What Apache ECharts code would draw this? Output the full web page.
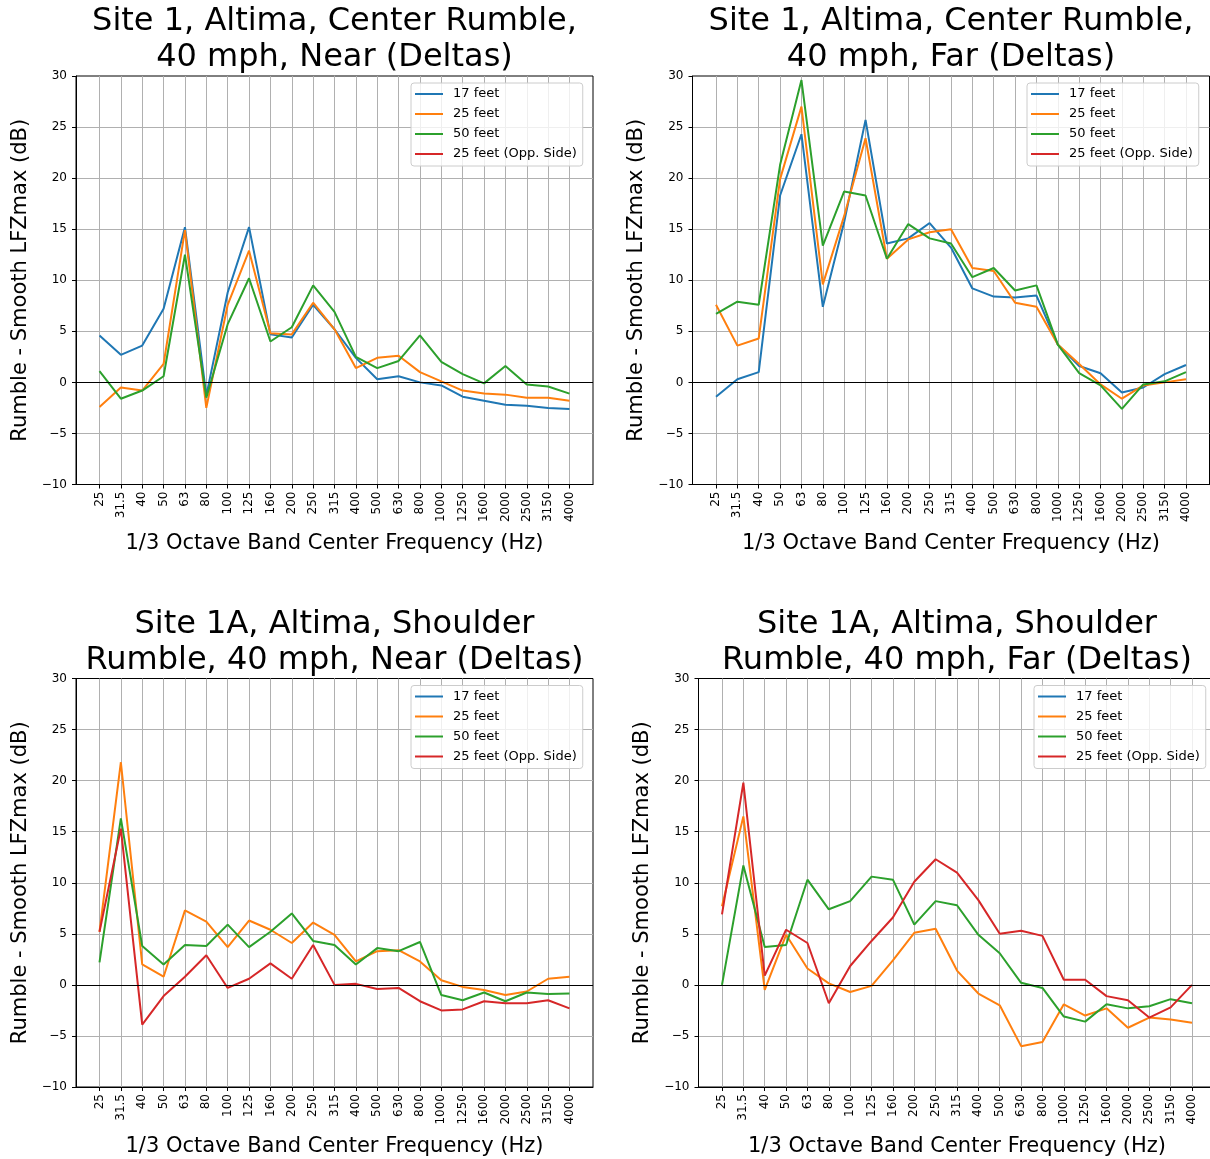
<!DOCTYPE html>
<html>
<head>
<meta charset="utf-8">
<title>Rumble deltas</title>
<script src="https://cdn.jsdelivr.net/npm/echarts@6/dist/echarts.min.js"></script>
<style>
  html, body { margin: 0; padding: 0; background: #fff; }
  #main { width: 1210px; height: 1159px; }
</style>
</head>
<body>
<div id="main"></div>
<script>
// 1/3 octave band centre frequencies (x axis)
const freqs = ['25', '31.5', '40', '50', '63', '80', '100', '125', '160', '200', '250', '315',
  '400', '500', '630', '800', '1000', '1250', '1600', '2000', '2500', '3150', '4000']
const seriesNames = ['17 feet', '25 feet', '50 feet', '25 feet (Opp. Side)']

// Site 1, center rumble, near
const s1Near17 = [4.6, 2.7, 3.6, 7.2, 15.2, -1.3, 8.8, 15.2, 4.7, 4.4, 7.6, 5.2, 2.4, 0.3, 0.6, 0.0, -0.3, -1.4, -1.8, -2.2, -2.3, -2.5, -2.6]
const s1Near25 = [-2.4, -0.5, -0.8, 1.8, 14.9, -2.5, 7.6, 12.9, 4.8, 4.7, 7.8, 5.2, 1.4, 2.4, 2.6, 1.0, 0.1, -0.8, -1.1, -1.2, -1.5, -1.5, -1.8]
const s1Near50 = [1.1, -1.6, -0.8, 0.6, 12.5, -1.5, 5.7, 10.2, 4.0, 5.4, 9.5, 6.9, 2.5, 1.4, 2.1, 4.6, 2.0, 0.8, -0.1, 1.6, -0.2, -0.4, -1.1]

// Site 1, center rumble, far
const s1Far17 = [-1.4, 0.3, 1.0, 18.3, 24.3, 7.4, 15.7, 25.7, 13.6, 14.1, 15.6, 13.2, 9.2, 8.4, 8.3, 8.5, 3.7, 1.6, 0.9, -1.0, -0.5, 0.8, 1.7]
const s1Far25 = [7.6, 3.6, 4.3, 19.9, 27.0, 9.6, 16.3, 23.9, 12.1, 14.0, 14.7, 15.0, 11.2, 10.9, 7.8, 7.4, 3.7, 1.8, -0.2, -1.6, -0.3, 0.0, 0.3]
const s1Far50 = [6.7, 7.9, 7.6, 21.3, 29.6, 13.4, 18.7, 18.3, 12.1, 15.5, 14.1, 13.6, 10.3, 11.2, 9.0, 9.5, 3.7, 0.9, -0.3, -2.6, -0.2, 0.1, 1.0]

// Site 1A, shoulder rumble, near
const s1aNear25 = [5.2, 21.8, 2.0, 0.8, 7.3, 6.2, 3.7, 6.3, 5.4, 4.1, 6.1, 4.9, 2.3, 3.3, 3.4, 2.3, 0.45, -0.2, -0.5, -1.0, -0.65, 0.6, 0.8]
const s1aNear50 = [2.2, 16.3, 3.8, 2.0, 3.9, 3.8, 5.9, 3.7, 5.2, 7.0, 4.3, 3.9, 2.0, 3.6, 3.3, 4.2, -1.0, -1.5, -0.75, -1.6, -0.75, -0.9, -0.85]
const s1aNearOpp = [5.2, 15.3, -3.9, -1.1, 0.8, 2.9, -0.3, 0.6, 2.1, 0.6, 3.9, 0.0, 0.1, -0.4, -0.3, -1.6, -2.5, -2.4, -1.6, -1.8, -1.8, -1.5, -2.3]

// Site 1A, shoulder rumble, far
const s1aFar25 = [7.7, 16.5, -0.5, 4.9, 1.6, 0.15, -0.7, -0.1, 2.4, 5.1, 5.5, 1.4, -0.85, -2.0, -6.0, -5.6, -1.9, -3.0, -2.3, -4.2, -3.2, -3.4, -3.7]
const s1aFar50 = [0.0, 11.7, 3.7, 3.9, 10.3, 7.4, 8.2, 10.6, 10.3, 5.9, 8.2, 7.8, 4.9, 3.1, 0.2, -0.3, -3.1, -3.6, -1.9, -2.3, -2.1, -1.4, -1.8]
const s1aFarOpp = [6.9, 19.8, 0.9, 5.4, 4.1, -1.8, 1.85, 4.3, 6.6, 10.1, 12.3, 11.0, 8.3, 5.0, 5.3, 4.8, 0.5, 0.5, -1.1, -1.5, -3.2, -2.2, 0.0]

const colors = ['#1f77b4', '#ff7f0e', '#2ca02c', '#d62728']
const font = 'DejaVu Sans'
const tickIdx = freqs.map((f, i) => i)

const panels = [
  { title: 'Site 1, Altima, Center Rumble,\n40 mph, Near (Deltas)', left: 76, top: 76, legendLeft: 411,
    data: [s1Near17, s1Near25, s1Near50, []] },
  { title: 'Site 1, Altima, Center Rumble,\n40 mph, Far (Deltas)', left: 692.5, top: 76, legendLeft: 1027,
    data: [s1Far17, s1Far25, s1Far50, []] },
  { title: 'Site 1A, Altima, Shoulder\nRumble, 40 mph, Near (Deltas)', left: 76, top: 678.5, legendLeft: 411,
    data: [[], s1aNear25, s1aNear50, s1aNearOpp] },
  { title: 'Site 1A, Altima, Shoulder\nRumble, 40 mph, Far (Deltas)', left: 698.5, top: 678.5, legendLeft: 1034,
    data: [[], s1aFar25, s1aFar50, s1aFarOpp] },
]
const plotW = 517
const plotH = 408.5

let option = { animation: false, title: [], legend: [], grid: [], xAxis: [], yAxis: [], series: [] }

panels.forEach((p, i) => {
  option.title.push({
    text: p.title,
    left: p.left + plotW / 2,
    top: p.top - 72,
    padding: 0,
    textAlign: 'center',
    textStyle: { fontSize: 32, fontWeight: 'normal', color: '#000', fontFamily: font, lineHeight: 36 },
  })
  option.grid.push({
    left: p.left, top: p.top, width: plotW, height: plotH,
    show: true, borderColor: '#000', borderWidth: 1, backgroundColor: 'transparent',
    containLabel: false, outerBoundsMode: 'none',
  })
  option.xAxis.push({
    type: 'value', gridIndex: i, min: -1.1, max: 23.1,
    name: '1/3 Octave Band Center Frequency (Hz)',
    nameLocation: 'middle', nameGap: 49,
    nameTextStyle: { fontSize: 21, color: '#000', fontFamily: font },
    axisLine: { show: true, onZero: false, lineStyle: { color: '#000', width: 1 } },
    axisTick: { show: true, length: 4, customValues: tickIdx, lineStyle: { color: '#000', width: 1 } },
    axisLabel: {
      customValues: tickIdx, rotate: 90, margin: 7, fontSize: 12, color: '#000', fontFamily: font,
      formatter: (v) => freqs[Math.round(v)],
    },
    splitLine: { show: true, lineStyle: { color: '#b0b0b0', width: 1 } },
  })
  option.yAxis.push({
    type: 'value', gridIndex: i, min: -10, max: 30, interval: 5,
    name: 'Rumble - Smooth LFZmax (dB)',
    nameLocation: 'middle', nameGap: 45,
    nameTextStyle: { fontSize: 21, color: '#000', fontFamily: font },
    axisLine: { show: true, onZero: false, lineStyle: { color: '#000', width: 1 } },
    axisTick: { show: true, length: 4, lineStyle: { color: '#000', width: 1 } },
    axisLabel: {
      fontSize: 12, color: '#000', fontFamily: font, margin: 9,
      formatter: (v) => String(v).replace('-', '\u2212'),
    },
    splitLine: { show: true, showMinLine: false, showMaxLine: false, lineStyle: { color: '#b0b0b0', width: 1 } },
  })
  option.legend.push({
    orient: 'vertical', left: p.legendLeft, top: p.top + 7,
    data: seriesNames, selectedMode: false,
    icon: 'rect', itemWidth: 28, itemHeight: 2, itemGap: 6,
    padding: [4, 6, 5, 4],
    backgroundColor: 'rgba(255,255,255,0.8)', borderColor: '#cccccc', borderWidth: 1, borderRadius: 3,
    textStyle: { fontSize: 13, color: '#000', fontFamily: font, lineHeight: 14, padding: [0, 0, 0, 5] },
  })
  seriesNames.forEach((name, k) => {
    let s = {
      type: 'line', name: name, xAxisIndex: i, yAxisIndex: i,
      data: p.data[k].map((v, j) => [j, v]),
      symbol: 'none', showSymbol: false, color: colors[k],
      lineStyle: { width: 2, color: colors[k] },
      itemStyle: { color: colors[k] },
      emphasis: { disabled: true },
    }
    if (k === 2) {
      // black zero line
      s.markLine = {
        silent: true, symbol: 'none', label: { show: false },
        lineStyle: { color: '#000', width: 1, type: 'solid' },
        emphasis: { disabled: true },
        data: [{ yAxis: 0 }],
      }
    }
    option.series.push(s)
  })
})

let myChart = echarts.init(document.getElementById('main'))
myChart.setOption(option)
</script>
</body>
</html>
